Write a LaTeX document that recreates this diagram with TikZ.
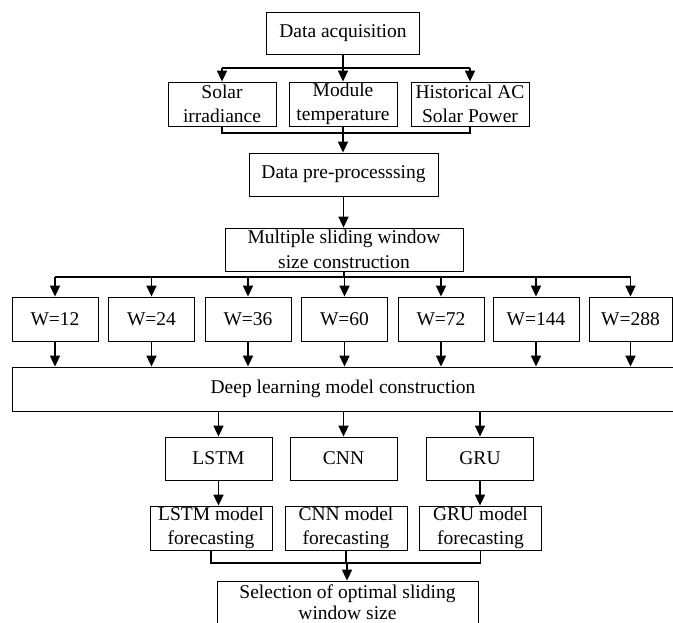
\documentclass[tikz,border=0pt]{standalone}
\usepackage{fontspec}
\setmainfont{Liberation Serif}
\usetikzlibrary{arrows.meta}
\begin{document}
\begin{tikzpicture}[x=1pt,y=-1pt,
  box/.style={draw=black, line width=0.8pt, inner sep=0pt, align=center,
              font=\fontsize{19.5}{24.5}\selectfont},
  link/.style={line width=1.7pt},
  arr/.style={line width=1.7pt, -{Triangle[length=11pt,width=10pt]}}]
\useasboundingbox (0,0) rectangle (673,623);
\clip (0,0) rectangle (673,623);

% top stage: acquisition and the three measured inputs
\node[box, minimum width=153pt, minimum height=42pt] (acq) at (343,33) {Data acquisition};
\node[box, minimum width=108pt, minimum height=44pt] (solar) at (222,104) {Solar\\irradiance};
\node[box, minimum width=108pt, minimum height=44pt] (temp) at (343,104) {Module\\temperature};
\node[box, minimum width=118pt, minimum height=44pt] (hist) at (470,104) {Historical AC\\Solar Power};

\coordinate (busA) at (343,68);
\draw[link] (acq.south) -- (busA);
\draw[link] (solar.north |- busA) -- (hist.north |- busA);
\foreach \n in {solar,temp,hist} \draw[arr] (\n.north |- busA) -- (\n.north);

\node[box, minimum width=189pt, minimum height=43pt] (pre) at (343.5,174.5) {Data pre-processsing};

\coordinate (busB) at (343,133);
\draw[link] (solar.south) -- (solar.south |- busB) -- (hist.south |- busB) -- (hist.south);
\draw[arr] (temp.south) -- (temp.south |- pre.north);

\node[box, minimum width=238pt, minimum height=43pt] (multi) at (344,249.5) {Multiple sliding window\\size construction};
\draw[arr] (pre.south) -- (pre.south |- multi.north);

% window sizes
\foreach \v/\cx/\bw [count=\i from 0] in {12/55/86, 24/151.5/86, 36/248/86, 60/344.5/86, 72/441/86, 144/536/86, 288/630.5/83}
  \node[box, minimum width=\bw pt, minimum height=44pt] (w\i) at (\cx,319) {W=\v};

\coordinate (busW) at (344,277);
\draw[link] (multi.south) -- (busW);
\draw[link] (w0.north |- busW) -- (w6.north |- busW);
\foreach \i in {0,...,6} \draw[arr] (w\i.north |- busW) -- (w\i.north);

\node[box, minimum width=662pt, minimum height=44pt] (dl) at (343,389) {Deep learning model construction};
\foreach \i in {0,...,6} \draw[arr] (w\i.south) -- (w\i.south |- dl.north);

% models
\node[box, minimum width=107pt, minimum height=43pt] (lstm) at (218.5,458.5) {LSTM};
\node[box, minimum width=107pt, minimum height=43pt] (cnn) at (343.5,458.5) {CNN};
\node[box, minimum width=107pt, minimum height=43pt] (gru) at (480,458.5) {GRU};
\foreach \n in {lstm,cnn,gru} \draw[arr] (\n.north |- dl.south) -- (\n.north);

\node[box, minimum width=122pt, minimum height=44pt] (flstm) at (211,528) {LSTM model\\forecasting};
\node[box, minimum width=122pt, minimum height=44pt] (fcnn) at (346,528) {CNN model\\forecasting};
\node[box, minimum width=122pt, minimum height=44pt] (fgru) at (480.5,528) {GRU model\\forecasting};
\draw[arr] (lstm.south) -- (lstm.south |- flstm.north);
\draw[arr] (gru.south) -- (gru.south |- fgru.north);

% selection
\node[box, minimum width=261pt, minimum height=43pt, font=\fontsize{19.5}{21}\selectfont] (sel) at (347.5,602.5) {Selection of optimal sliding\\window size};
\coordinate (busF) at (347,563);
\draw[link] (flstm.south) -- (flstm.south |- busF) -- (fgru.south |- busF) -- (fgru.south);
\draw[link] (fcnn.south) -- (fcnn.south |- busF);
\draw[arr] (busF) -- (busF |- sel.north);
\end{tikzpicture}
\end{document}
